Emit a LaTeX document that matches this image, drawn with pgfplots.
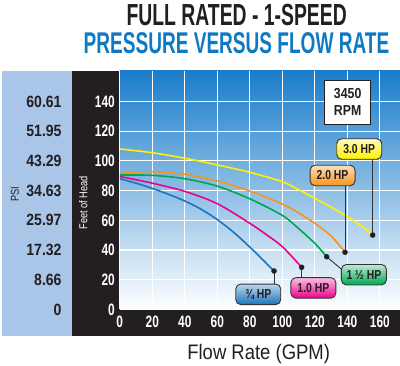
\documentclass[border=0pt]{standalone}
\usepackage{pgfplots}
\pgfplotsset{compat=1.18}
\usepackage{fontspec}
\setmainfont{Liberation Sans}
\newfontfamily\titlef[FakeStretch=0.635]{Liberation Sans}
\newfontfamily\tickf[FakeStretch=0.72]{Liberation Sans}
\newfontfamily\psif[FakeStretch=0.86]{Liberation Sans}
\newfontfamily\labf[FakeStretch=0.8]{Liberation Sans}
\newfontfamily\rpmf[FakeStretch=0.85]{Liberation Sans}
\newfontfamily\flowf[FakeStretch=0.88]{Liberation Sans}
\definecolor{panel}{HTML}{A9C5E8}
\definecolor{blk}{HTML}{231F20}
\definecolor{tblue}{HTML}{0E7AC4}
\definecolor{cyel}{HTML}{FFF200}
\definecolor{corg}{HTML}{F7941D}
\definecolor{cgrn}{HTML}{00A651}
\definecolor{cmag}{HTML}{EC008C}
\definecolor{cblu}{HTML}{1C75BC}
\definecolor{bgtop}{HTML}{1B7DCB}
\definecolor{bgbot}{HTML}{FFFFFF}
\definecolor{lead}{HTML}{333333}
\tikzset{hpbox/.style={draw=lead, line width=0.9pt, rounded corners=5pt, minimum width=45pt, minimum height=20.5pt, inner sep=0pt, font=\fontsize{13}{13}\labf\bfseries, text=blk}}
\begin{document}
\begin{tikzpicture}[x=1pt,y=1pt]
\useasboundingbox (0,0) rectangle (400,366);
\fill[panel] (2,30) rectangle (72,295);
\fill[blk] (72,30) rectangle (400,295);
\node[anchor=base, inner sep=0pt, text=blk] at (236.7,340.3) {\fontsize{30.5}{30}\titlef\bfseries FULL RATED - 1-SPEED};
\node[anchor=base, inner sep=0pt, text=tblue] at (236.5,312.2) {\fontsize{30}{30}\titlef\bfseries PRESSURE VERSUS FLOW RATE};
\node[anchor=base, inner sep=0pt, text=blk] at (258.7,6.7) {\fontsize{21}{21}\flowf Flow Rate (GPM)};
\node[rotate=90, text=white, inner sep=0pt] at (83.3,163) {\fontsize{11.5}{12}\labf Feet of Head};
\node[rotate=90, text=blk, inner sep=0pt] at (15,172) {\fontsize{11.5}{12}\labf PSI};

\begin{axis}[at={(119.8pt,56.5pt)}, anchor=south west, scale only axis,
  width=280.2pt, height=238.5pt, xmin=0, xmax=172.4, ymin=0, ymax=160.5,
  hide x axis, axis line style={draw=none}, major tick length=0pt,
  ytick={0,20,...,140}, yticklabels={0,8.66,17.32,25.97,34.63,43.29,51.95,60.61},
  yticklabel style={text=blk, anchor=east, inner sep=0pt, xshift=-58.1pt, font=\fontsize{16.3}{16}\psif\bfseries}]
\end{axis}

\begin{axis}[at={(119.8pt,56.5pt)}, anchor=south west, scale only axis,
  width=280.2pt, height=238.5pt, xmin=0, xmax=172.4, ymin=0, ymax=160.5,
  xtick={0,20,...,160}, ytick={0,20,...,140},
  grid=major, grid style={white, line width=1.2pt},
  axis line style={draw=none}, major tick length=0pt,
  /pgf/number format/assume math mode=true,
  ticklabel style={font=\fontsize{16.5}{16}\tickf\bfseries},
  xticklabel style={text=white, anchor=north, inner sep=0pt, yshift=-6.2pt},
  yticklabel style={text=white, anchor=east, inner sep=0pt, xshift=-4.8pt},
  axis background/.style={shade, shading angle=-30, top color=bgtop, bottom color=bgbot},
  clip=false]
\addplot[cyel, line width=1.6pt, smooth] coordinates {(0,108) (20,105.5) (40,101.8) (60,97.3) (80,92.3) (100,86) (110,80.6) (120,74.8) (130,68.8) (140,62.5) (150,55.2) (155.6,50.1)};
\addplot[corg, line width=1.6pt, smooth] coordinates {(0,91.5) (10,92.5) (20,92.7) (40,91) (60,86.5) (80,79.7) (100,71) (110,65) (120,58) (130,49.5) (138.6,38.5)};
\addplot[cgrn, line width=1.6pt, smooth] coordinates {(0,90.5) (20,90.3) (40,88) (60,83) (80,74.5) (100,63.3) (110,54.5) (120,44.5) (127.3,35.5)};
\addplot[cmag, line width=1.6pt, smooth] coordinates {(0,89.5) (20,85) (40,79.5) (60,71.2) (80,58) (90,50.5) (100,42.3) (111.9,28.4)};
\addplot[cblu, line width=1.6pt, smooth] coordinates {(0,88) (10,85) (20,81.5) (30,77.5) (40,73) (50,67.5) (60,60.5) (70,52) (80,42) (88,33.5) (94.9,25.9)};
% leader lines
\draw[lead, line width=0.9pt] (axis cs:94.9,25.9) -- (axis cs:94.9,17);
\draw[lead, line width=0.9pt] (axis cs:111.9,28.4) -- (axis cs:111.9,21.4);
\draw[lead, line width=0.9pt] (axis cs:127.3,35.5) -- (axis cs:136.5,27);
\draw[lead, line width=0.9pt] (axis cs:138.6,38.5) -- (axis cs:138.6,83.1);
\draw[lead, line width=0.9pt] (axis cs:155.6,50.1) -- (axis cs:155.6,101.3);
\addplot[only marks, mark=*, mark size=2.5pt, blk] coordinates {(94.9,25.9) (111.9,28.4) (127.3,35.5) (138.6,38.5) (155.6,50.1)};
\node[hpbox, top color=cblu!30, bottom color=cblu] at (axis cs:85.2,10.2) {¾ HP};
\node[hpbox, top color=cmag!25, bottom color=cmag] at (axis cs:119.1,14.5) {1.0 HP};
\node[hpbox, top color=cgrn!25, bottom color=cgrn] at (axis cs:150.2,23.4) {1 ½ HP};
\node[hpbox, top color=corg!30, bottom color=corg] at (axis cs:130.9,90.2) {2.0 HP};
\node[hpbox, top color=cyel!25, bottom color=cyel] at (axis cs:147.3,108) {3.0 HP};
\node[draw=blk, fill=white, line width=1pt, minimum width=45.5pt, minimum height=44.3pt, inner sep=0pt, align=center, font=\fontsize{14.5}{17}\rpmf\bfseries, text=blk] at (axis cs:140.2,139.5) {3450\\RPM};
\end{axis}
\end{tikzpicture}
\end{document}
